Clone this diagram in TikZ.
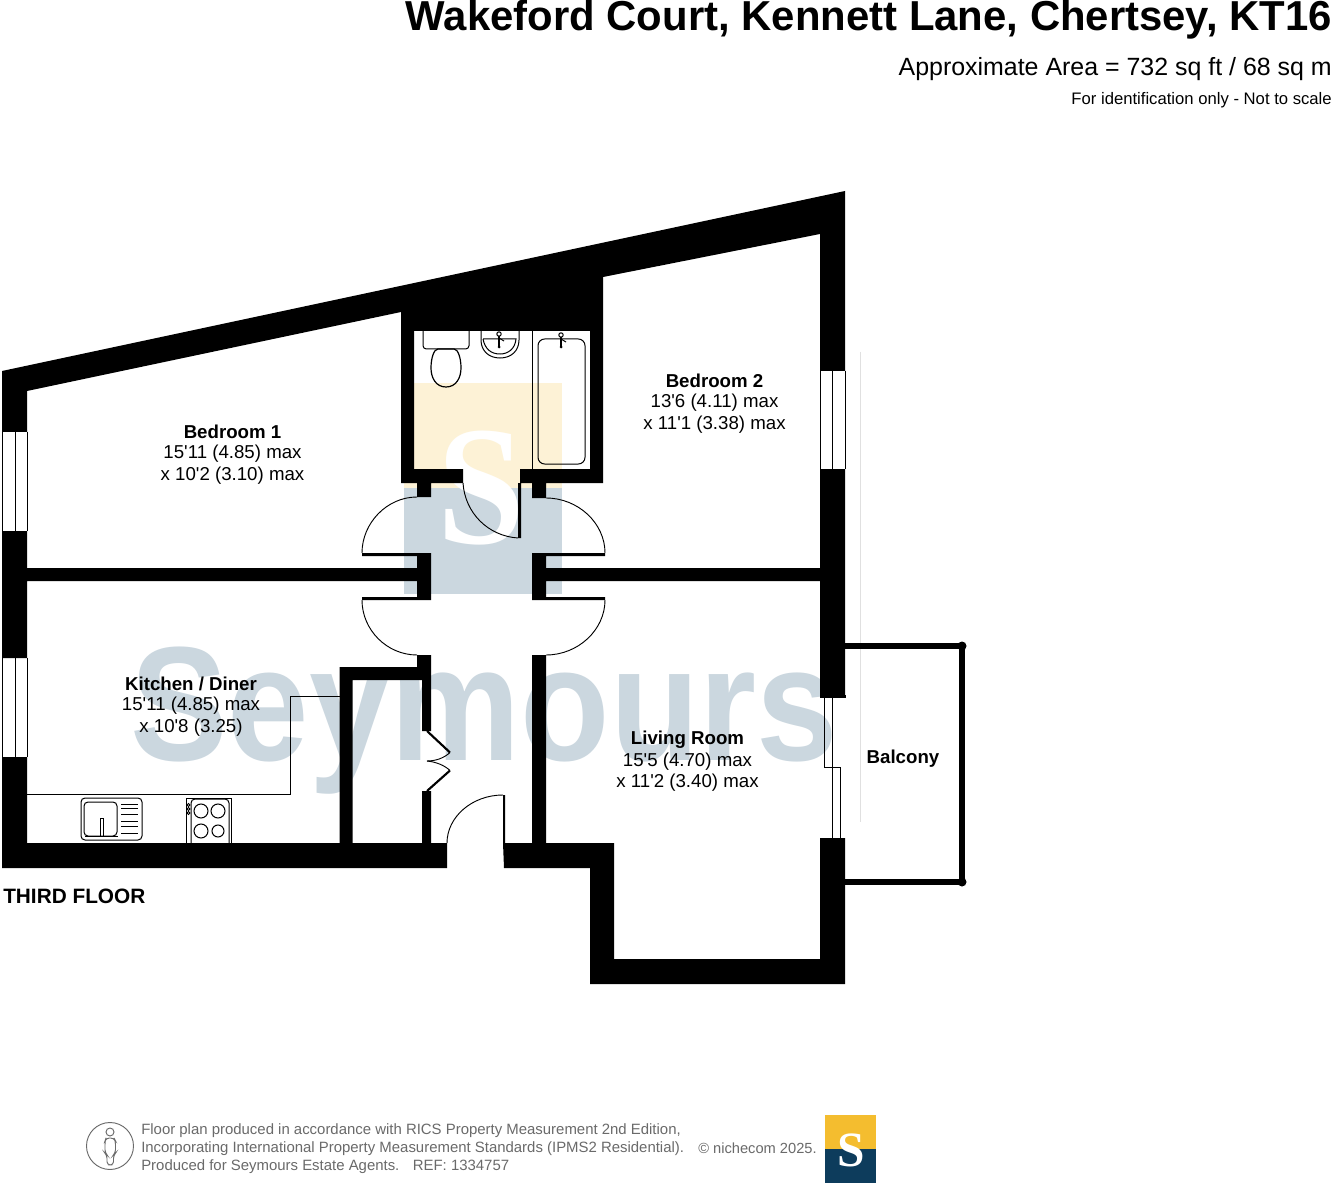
\documentclass[tikz,border=0pt]{standalone}
\usepackage{fontspec}
\setmainfont{Liberation Sans}
\newfontfamily\serifS{Liberation Serif}
\definecolor{wmblue}{HTML}{CBD7DF}
\definecolor{wmyellow}{HTML}{FDF2D6}
\definecolor{logoy}{HTML}{F4BD2F}
\definecolor{logob}{HTML}{0D3C5C}
\definecolor{foot}{HTML}{6A6A6A}
\newcommand{\ap}{\textquotesingle}
\tikzset{
  thin line/.style={line width=0.7pt,black},
  fixture/.style={line width=0.75pt,black},
  lbl/.style={font=\fontsize{14}{14}\selectfont,inner sep=0pt,anchor=center},
  lblb/.style={font=\fontsize{14}{14}\selectfont\bfseries,inner sep=0pt,anchor=center},
  footer/.style={font=\fontsize{11.2}{11.2}\selectfont,text=foot,inner sep=0pt,anchor=west},
  rail/.style={line width=4.2pt,black}
}
\begin{document}
\begin{tikzpicture}[x=0.75pt,y=-0.75pt]
\useasboundingbox (0,0) rectangle (1335,1194);
\fill[white] (0,0) rectangle (1335,1194);
% watermark
\fill[wmyellow] (404,383) rectangle (562,488);
\fill[wmblue] (404,488) rectangle (562,594);
\node[inner sep=0pt,anchor=base,text=white,font=\fontsize{118}{118}\selectfont\serifS\bfseries] (wmS) at (481,543) {\scalebox{1}[1.08]{S}};
\node[inner sep=0pt,anchor=base,text=wmblue,font=\fontsize{122}{122}\selectfont\bfseries] (wm) at (484,760) {\scalebox{0.9}[1]{Seymours}};
% walls
\fill[black]
 (2,371)--(845,191)--(845,371)--(820,371)--(820,234)--(603,277)--(603,483)--(520,483)--(520,469)--(590,469)--(590,331)--(414,331)--(414,469)--(463,469)--(463,483)--(401,483)--(401,312)--(27,391)--(27,432)--(2,432)--cycle
 (820,469)--(845,469)--(845,697)--(820,697)--cycle
 (2,531)--(27,531)--(27,658)--(2,658)--cycle
 (2,757)--(27,757)--(27,843)--(447,843)--(447,868)--(2,868)--cycle
 (27,568) rectangle (417,581)
 (546,568) rectangle (820,581)
 (417,483) rectangle (431,497)
 (532,483) rectangle (546,498)
 (417,553) rectangle (431,598)
 (532,553) rectangle (546,598)
 (362,553) rectangle (431,556)
 (362,597) rectangle (431,600)
 (532,553) rectangle (605,556)
 (532,597) rectangle (605,600)
 (518,483) rectangle (521,538)
 (417,655) rectangle (431,680)
 (422,680) rectangle (431,731)
 (340,667) rectangle (417,680)
 (339.5,667) rectangle (352.5,843)
 (422,791) rectangle (431,843)
 (532,655) rectangle (546,843)
 (503,843)--(614,843)--(614,959)--(820,959)--(820,838)--(845,838)--(845,984)--(590,984)--(590,868)--(504,868)--cycle
 (503,795) rectangle (505,843);
% door swings
\draw[thin line] (417,497) .. controls (387,497) and (362,523) .. (362,553);
\draw[thin line] (546,498) .. controls (578,498) and (605,523) .. (605,553);
\draw[thin line] (362,600) .. controls (362,630) and (387,655) .. (417,655);
\draw[thin line] (605,600) .. controls (605,630) and (578,655) .. (546,655);
\draw[thin line] (463,483) .. controls (465,513) and (488,536) .. (518,538);
\draw[thin line] (503,795) .. controls (472,795) and (447,817) .. (447,843);
% cupboard bifold
\draw[line width=1.6pt] (427,731)--(450,752.5);
\draw[line width=1.6pt] (427,791)--(450,770.5);
\draw[thin line] (450,752.5) .. controls (444,758) and (436,761) .. (427,761);
\draw[thin line] (450,770.5) .. controls (444,765) and (436,762) .. (427,761);
% windows
\draw[thin line] (2.5,432)--(2.5,531) (15,432)--(15,531) (27,432)--(27,531);
\draw[thin line] (2.5,658)--(2.5,757) (15,658)--(15,757) (27,658)--(27,757);
\draw[thin line] (820,371)--(820,469) (832,371)--(832,469) (845,371)--(845,469);
\draw[thin line] (820,697) rectangle (845,695);
\draw[thin line] (824,697)--(824,767)--(840,767)--(840,838) (832,697)--(832,838);
% balcony
\draw[white!88!black,line width=0.7pt] (860,352)--(860,822);
\draw[rail] (845,646)--(962,646)--(962,882)--(845,882);
\fill[black] (962,646) circle[radius=4.5] (962,882) circle[radius=4.5];
% kitchen units
\draw[thin line] (340,696)--(290,696)--(290,794.5)--(27,794.5);
\draw[fixture,rounded corners=3pt] (81,798) rectangle (142,840);
\draw[fixture,rounded corners=3pt] (84,802) rectangle (117,836);
\draw[fixture] (121,804)--(138,804) (121,808)--(138,808) (121,814)--(138,814) (121,821)--(138,821) (121,826)--(138,826) (121,833)--(138,833);
\draw[fixture] (100,836)--(100,818)--(103,818)--(103,836);
\draw[fixture] (85,836.5)--(118,836.5);
\draw[fixture] (186,843)--(186,798)--(231,798)--(231,843);
\draw[fixture,rounded corners=3pt] (191,843)--(191,799)--(229,799)--(229,843);
\draw[fixture] (201,811) circle[radius=7] (218,811) circle[radius=7] (201,831) circle[radius=7] (218,831) circle[radius=6];
\draw[fixture] (188.5,805) circle[radius=1.5] (188.5,809) circle[radius=1.5] (188.5,813) circle[radius=1.5];
% bathroom fixtures
\draw[thin line] (532,331)--(532,469);
\draw[fixture,rounded corners=2.5pt] (423,331)--(423,349)--(469,349)--(469,331);
\draw[line width=0.9pt] (446,387) .. controls (436,387) and (431,378) .. (431,368) .. controls (431,358) and (434,349) .. (438,349) -- (454,349) .. controls (458,349) and (461,358) .. (461,368) .. controls (461,378) and (456,387) .. (446,387);
\draw[fixture] (481,331)--(481,340) .. controls (481,351) and (489,358) .. (500,358) .. controls (511,358) and (519,351) .. (519,340)--(519,331);
\draw[fixture] (483,339)--(516,339) .. controls (515,349) and (508,354) .. (500,354) .. controls (491,354) and (485,349) .. (483,339);
\draw[line width=1.2pt] (499,336)--(499,347);
\fill[black] (499,347) circle[radius=1.5];
\draw[fixture,fill=white] (499,334) circle[radius=2.2];
\draw[fixture] (499,338)--(504,341);
\draw[fixture,rounded corners=5pt] (538,339) rectangle (585,464);
\draw[line width=1.2pt] (561,336)--(561,347);
\fill[black] (561,347) circle[radius=1.5];
\draw[fixture,fill=white] (561,335) circle[radius=2.2];
\draw[fixture] (561,339)--(566,342);
% room labels
\node[lblb] (b1a) at (232.5,432) {Bedroom 1};
\node[lbl] (b1b) at (232.5,454) {15\ap11 (4.85) max};
\node[lbl] (b1c) at (232.5,476) {x 10\ap2 (3.10) max};
\node[lblb] (b2a) at (714.5,381) {Bedroom 2};
\node[lbl] (b2b) at (714.5,403) {13\ap6 (4.11) max};
\node[lbl] (b2c) at (714.5,425) {x 11\ap1 (3.38) max};
\node[lblb] (k1) at (191,684) {Kitchen / Diner};
\node[lbl] (k2) at (191,706) {15\ap11 (4.85) max};
\node[lbl] (k3) at (191,728) {x 10\ap8 (3.25)};
\node[lblb] (l1) at (687.5,740) {Living Room};
\node[lbl] (l2) at (687.5,762) {15\ap5 (4.70) max};
\node[lbl] (l3) at (687.5,783) {x 11\ap2 (3.40) max};
\node[lblb] (bal) at (903,759) {Balcony};
\node[inner sep=0pt,anchor=west,font=\fontsize{15.6}{15.6}\selectfont\bfseries] (tf) at (3,896) {THIRD FLOOR};
% titles
\node[inner sep=0pt,anchor=base east,font=\fontsize{31.4}{31.4}\selectfont\bfseries] (title) at (1332,31) {Wakeford Court, Kennett Lane, Chertsey, KT16};
\node[inner sep=0pt,anchor=base east,font=\fontsize{18.7}{18.7}\selectfont] (area) at (1332,76) {Approximate Area = 732 sq ft / 68 sq m};
\node[inner sep=0pt,anchor=base east,font=\fontsize{12.5}{12.5}\selectfont] (id) at (1332,105) {For identification only - Not to scale};
% footer
\draw[foot,line width=0.7pt] (110,1146) circle[radius=23.5];
\draw[foot,line width=0.7pt] (110,1132) circle[radius=4];
\draw[foot,line width=0.7pt,rounded corners=2.5pt] (106,1138)--(114,1138)--(115.5,1141)--(115.5,1153)--(113.5,1155)--(113.5,1165)--(107,1165)--(107,1155)--(105,1153)--(105,1141)--cycle;
\node[footer] (f1) at (141,1130.5) {Floor plan produced in accordance with RICS Property Measurement 2nd Edition,};
\node[footer] (f2) at (141,1148.5) {Incorporating International Property Measurement Standards (IPMS2 Residential).};
\node[footer] (f3) at (141,1166.5) {Produced for Seymours Estate Agents.\hspace{0.9em}REF: 1334757};
\node[footer,font=\fontsize{11}{11}\selectfont] (f4) at (698,1148.5) {© nichecom 2025.};
\fill[logoy] (825,1115) rectangle (876,1149);
\fill[logob] (825,1149) rectangle (876,1183);
\node[inner sep=0pt,anchor=base,text=white,font=\fontsize{37}{37}\selectfont\serifS\bfseries] (logoS) at (851.5,1166) {S};
\end{tikzpicture}
\end{document}
